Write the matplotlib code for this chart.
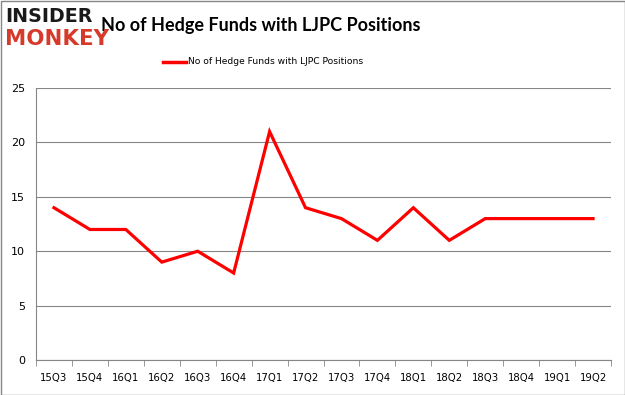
import matplotlib
matplotlib.use("Agg")
import matplotlib.pyplot as plt
from matplotlib.patches import Rectangle

quarters = ["15Q3", "15Q4", "16Q1", "16Q2", "16Q3", "16Q4", "17Q1", "17Q2",
            "17Q3", "17Q4", "18Q1", "18Q2", "18Q3", "18Q4", "19Q1", "19Q2"]
hedge_funds = [14, 12, 12, 9, 10, 8, 21, 14, 13, 11, 14, 11, 13, 13, 13, 13]
y_ticks = [0, 5, 10, 15, 20, 25]
series_name = "No of Hedge Funds with LJPC Positions"

fig = plt.figure(figsize=(6.25, 3.95), dpi=100)
ax = fig.add_axes([0.0576, 0.0886, 0.92, 0.6884])

x = list(range(len(quarters)))
ax.plot(x, hedge_funds, color="#ff0000", linewidth=2.3, solid_joinstyle="miter")

ax.set_xlim(-0.5, len(quarters) - 0.5)
ax.set_ylim(0, 25)
ax.set_yticks(y_ticks)
ax.set_yticklabels([str(v) for v in y_ticks], fontsize=8, family="DejaVu Sans")
ax.set_xticks(x)
ax.set_xticklabels(quarters, fontsize=7.3, family="DejaVu Sans")
ax.tick_params(axis="x", length=0, pad=9)
ax.tick_params(axis="y", length=0, pad=8)
ax.set_xticks([i - 0.5 for i in range(len(quarters) + 1)], minor=True)
ax.tick_params(axis="x", which="minor", length=4, color="#868686")

ax.grid(axis="y", color="#868686", linewidth=0.8)
ax.set_axisbelow(True)
for side in ["top", "right"]:
    ax.spines[side].set_visible(False)
ax.spines["left"].set_color("#868686")
ax.spines["bottom"].set_color("#868686")

# legend
fig.add_artist(plt.Line2D([163 / 625, 186 / 625], [1 - 62 / 395, 1 - 62 / 395],
                          color="#ff0000", linewidth=2.5))
fig.text(188 / 625, 1 - 62 / 395, series_name, fontsize=6.6, va="center", ha="left",
         family="DejaVu Sans")

# title
fig.text(101 / 625, 1 - 25 / 395, series_name, fontsize=13, fontweight="bold",
         va="center", ha="left", family="Lato")

# logo
fig.text(5 / 625, 1 - 17 / 395, "INSIDER", fontsize=13.7, fontweight="heavy",
         va="center", ha="left", color="#1a1a1a", family="DejaVu Sans")
fig.text(5 / 625, 1 - 39 / 395, "MONKEY", fontsize=15.4, fontweight="heavy",
         va="center", ha="left", color="#d63a2a", family="DejaVu Sans")

fig.add_artist(Rectangle((0.0008, 0.001), 0.9984, 0.997, transform=fig.transFigure,
                         fill=False, edgecolor="#868686", linewidth=1))

fig.savefig("out.png", dpi=100)
